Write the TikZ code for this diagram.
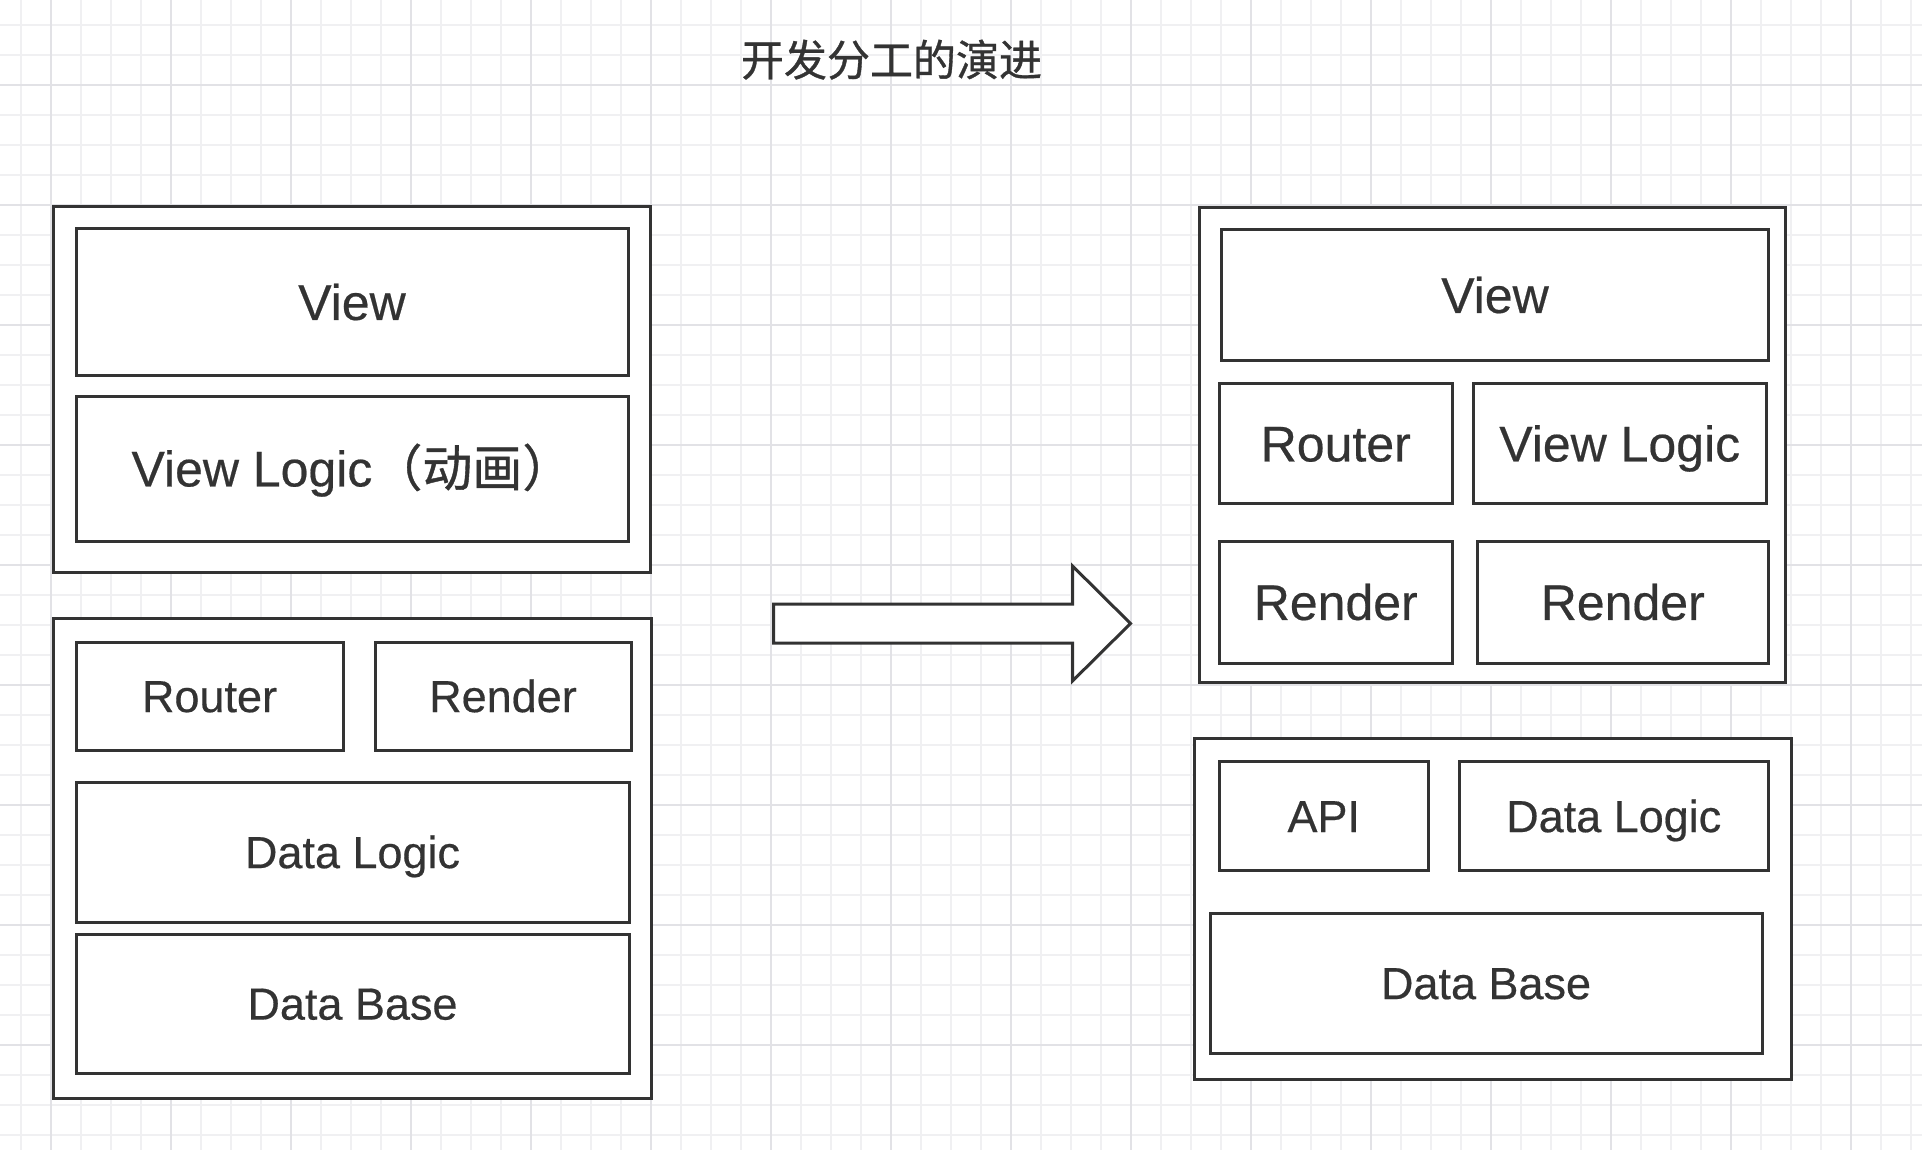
\documentclass[tikz,border=0pt]{standalone}
\usepackage{fontspec}
\setmainfont[FakeBold=0.4]{Liberation Sans}
\newfontfamily\cjk[FakeBold=0.8]{Noto Sans CJK SC}
\definecolor{ink}{HTML}{333333}
\definecolor{gridminor}{RGB}{240,240,242}
\definecolor{gridmajor}{RGB}{226,226,230}
\tikzset{
  box/.style={draw=ink, line width=3pt, fill=white, inner sep=0pt, text=ink, line join=miter},
  bigtxt/.style={font=\fontsize{50}{60}\selectfont, text height=35.8pt, text depth=0pt},
  smalltxt/.style={font=\fontsize{45}{54}\selectfont, text height=32.2pt, text depth=0pt},
}
\begin{document}
\begin{tikzpicture}[x=1pt,y=-1pt]
\useasboundingbox (0,0) rectangle (1922,1150);
\fill[white] (0,0) rectangle (1922,1150);
% grid
\foreach \i in {0,...,63} {\draw[gridminor, line width=1.5pt] (21+30*\i,0) -- (21+30*\i,1150);}
\foreach \j in {0,...,37} {\draw[gridminor, line width=1.5pt] (0,25+30*\j) -- (1922,25+30*\j);}
\foreach \i in {0,...,15} {\draw[gridmajor, line width=2pt] (51+120*\i,0) -- (51+120*\i,1150);}
\foreach \j in {0,...,9} {\draw[gridmajor, line width=2pt] (0,85+120*\j) -- (1922,85+120*\j);}

% title
\node[anchor=base, text=ink, inner sep=0pt, font=\cjk\fontsize{43}{50}\selectfont] (title) at (891.5,76) {开发分工的演进};

% left top group
\node[box, minimum width=597pt, minimum height=365pt] (lto) at (351.5,389.5) {};
\node[box, bigtxt, minimum width=552pt, minimum height=146pt] (lview) at (352,302) {View};
\node[box, bigtxt, minimum width=552pt, minimum height=145pt] (lvlogic) at (352,468.5) {View Logic{\cjk （动画）}};

% left bottom group
\node[box, minimum width=598pt, minimum height=480pt] (lbo) at (352,858) {};
\node[box, smalltxt, minimum width=267pt, minimum height=108pt] (lrouter) at (209.5,696) {Router};
\node[box, smalltxt, minimum width=256pt, minimum height=108pt] (lrender) at (503,696) {Render};
\node[box, smalltxt, minimum width=553pt, minimum height=140pt] (ldlogic) at (352.5,852) {Data Logic};
\node[box, smalltxt, minimum width=553pt, minimum height=139pt] (ldbase) at (352.5,1003.5) {Data Base};

% block arrow
\draw[draw=ink, line width=3pt, fill=white, line join=miter]
  (773.5,604) -- (1072.5,604) -- (1072.5,566) -- (1130.5,623.5)
  -- (1072.5,681) -- (1072.5,643) -- (773.5,643) -- cycle;

% right top group
\node[box, minimum width=586pt, minimum height=474pt] (rto) at (1492,445) {};
\node[box, bigtxt, minimum width=547pt, minimum height=130pt] (rview) at (1495,295) {View};
\node[box, bigtxt, minimum width=232.5pt, minimum height=120pt] (rrouter) at (1335.75,443.5) {Router};
\node[box, bigtxt, minimum width=292.5pt, minimum height=120pt] (rvlogic) at (1619.75,443.5) {View Logic};
\node[box, bigtxt, minimum width=232.5pt, minimum height=122pt] (rrender1) at (1335.75,602) {Render};
\node[box, bigtxt, minimum width=291.5pt, minimum height=122pt] (rrender2) at (1622.75,602) {Render};

% right bottom group
\node[box, minimum width=597pt, minimum height=341pt] (rbo) at (1492.5,908.5) {};
\node[box, smalltxt, minimum width=208.5pt, minimum height=109pt] (rapi) at (1323.75,816) {API};
\node[box, smalltxt, minimum width=309.5pt, minimum height=109pt] (rdlogic) at (1613.75,816) {Data Logic};
\node[box, smalltxt, minimum width=552pt, minimum height=140pt] (rdbase) at (1486,983) {Data Base};
\end{tikzpicture}
\end{document}
